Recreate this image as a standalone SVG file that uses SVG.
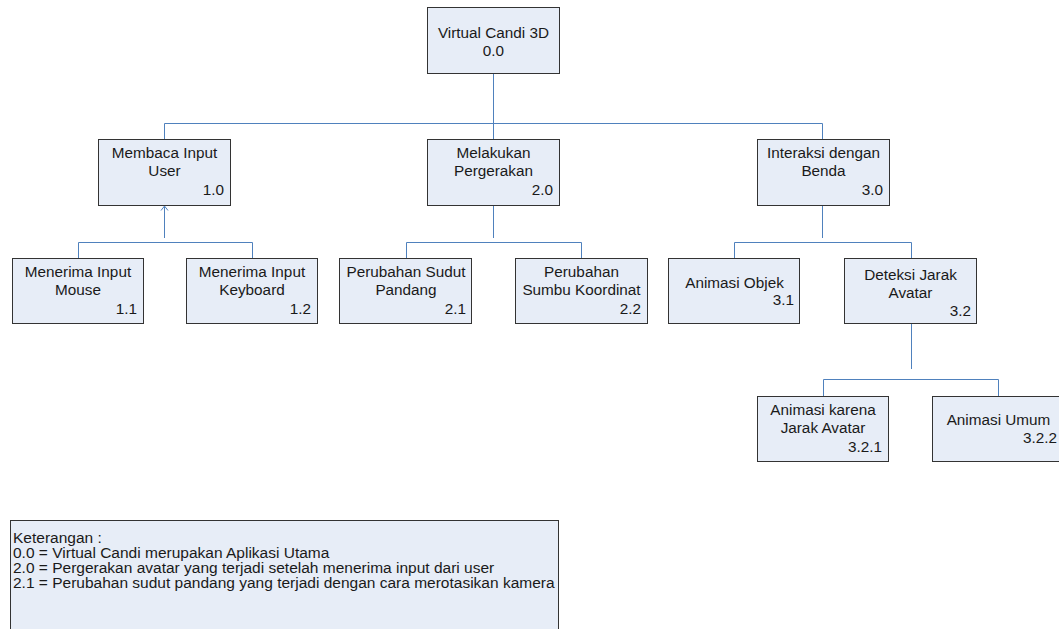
<svg xmlns="http://www.w3.org/2000/svg" width="1059" height="629" viewBox="0 0 1059 629">
<style>
.box{fill:#E7EDF7;stroke:#333;stroke-width:1}
.t{font-family:"Liberation Sans",Arial,sans-serif;font-size:15.3px;fill:#1a1a1a}
.lg{font-size:15.5px}
.c{text-anchor:middle}
.r{text-anchor:end}
.con{fill:none;stroke:#4F81BD;stroke-width:1}
</style>
<rect width="1059" height="629" fill="#fff"/>
<g id="connectors">
<path class="con" d="M493.5,74 V123.5 M164.5,123.5 H822.5 M164.5,123.5 V139 M493.5,123.5 V139 M822.5,123.5 V139"/>
<path class="con" d="M164.5,207 V238 M78.5,242.5 H252.5 M78.5,242.5 V258 M252.5,242.5 V258"/>
<path class="con" d="M161,210.5 L164.5,206 L168,210.5"/>
<path class="con" d="M493.5,205 V238 M406.5,242.5 H581.5 M406.5,242.5 V258 M581.5,242.5 V258"/>
<path class="con" d="M822.5,205 V238 M734.5,242.5 H911.5 M734.5,242.5 V258 M911.5,242.5 V258"/>
<path class="con" d="M911.5,323 V369 M823.5,379.5 H998.5 M823.5,379.5 V396 M998.5,379.5 V396"/>
</g>
<g id="n00"><rect class="box" x="427.5" y="7.5" width="132" height="66"/>
<text class="t c" x="493.5" y="38">Virtual Candi 3D</text><text class="t c" x="493.5" y="56">0.0</text></g>
<g id="n10"><rect class="box" x="98.5" y="139.5" width="132" height="66"/>
<text class="t c" x="164.5" y="158">Membaca Input</text><text class="t c" x="164.5" y="176">User</text><text class="t r" x="224" y="195">1.0</text></g>
<g id="n20"><rect class="box" x="427.5" y="139.5" width="132" height="66"/>
<text class="t c" x="493.5" y="158">Melakukan</text><text class="t c" x="493.5" y="176">Pergerakan</text><text class="t r" x="553" y="195">2.0</text></g>
<g id="n30"><rect class="box" x="757.5" y="139.5" width="132" height="66"/>
<text class="t c" x="823.5" y="158">Interaksi dengan</text><text class="t c" x="823.5" y="176">Benda</text><text class="t r" x="883" y="195">3.0</text></g>
<g id="n11"><rect class="box" x="12.5" y="258.5" width="131" height="65"/>
<text class="t c" x="78" y="277">Menerima Input</text><text class="t c" x="78" y="295">Mouse</text><text class="t r" x="137" y="314">1.1</text></g>
<g id="n12"><rect class="box" x="186.5" y="258.5" width="131" height="65"/>
<text class="t c" x="252" y="277">Menerima Input</text><text class="t c" x="252" y="295">Keyboard</text><text class="t r" x="311" y="314">1.2</text></g>
<g id="n21"><rect class="box" x="339.5" y="258.5" width="132" height="65"/>
<text class="t c" x="406" y="277">Perubahan Sudut</text><text class="t c" x="406" y="295">Pandang</text><text class="t r" x="466" y="314">2.1</text></g>
<g id="n22"><rect class="box" x="515.5" y="258.5" width="132" height="65"/>
<text class="t c" x="581.5" y="277">Perubahan</text><text class="t c" x="581.5" y="295">Sumbu Koordinat</text><text class="t r" x="641" y="314">2.2</text></g>
<g id="n31"><rect class="box" x="668.5" y="258.5" width="131" height="65"/>
<text class="t c" x="734.5" y="288">Animasi Objek</text><text class="t r" x="794" y="305">3.1</text></g>
<g id="n32"><rect class="box" x="844.5" y="258.5" width="132" height="65"/>
<text class="t c" x="910.5" y="280">Deteksi Jarak</text><text class="t c" x="910.5" y="298">Avatar</text><text class="t r" x="971" y="316">3.2</text></g>
<g id="n321"><rect class="box" x="757.5" y="396.5" width="131" height="65"/>
<text class="t c" x="823" y="415">Animasi karena</text><text class="t c" x="823" y="433">Jarak Avatar</text><text class="t r" x="882" y="452">3.2.1</text></g>
<g id="n322"><rect class="box" x="932.5" y="396.5" width="132" height="65"/>
<text class="t c" x="998.5" y="425">Animasi Umum</text><text class="t r" x="1057" y="443">3.2.2</text></g>
<g id="legend"><rect class="box" x="10.5" y="520.5" width="548" height="120"/>
<text class="t lg" x="13" y="543">Keterangan :</text>
<text class="t lg" x="13" y="558">0.0 = Virtual Candi merupakan Aplikasi Utama</text>
<text class="t lg" x="13" y="573">2.0 = Pergerakan avatar yang terjadi setelah menerima input dari user</text>
<text class="t lg" x="13" y="588">2.1 = Perubahan sudut pandang yang terjadi dengan cara merotasikan kamera</text></g>
</svg>
